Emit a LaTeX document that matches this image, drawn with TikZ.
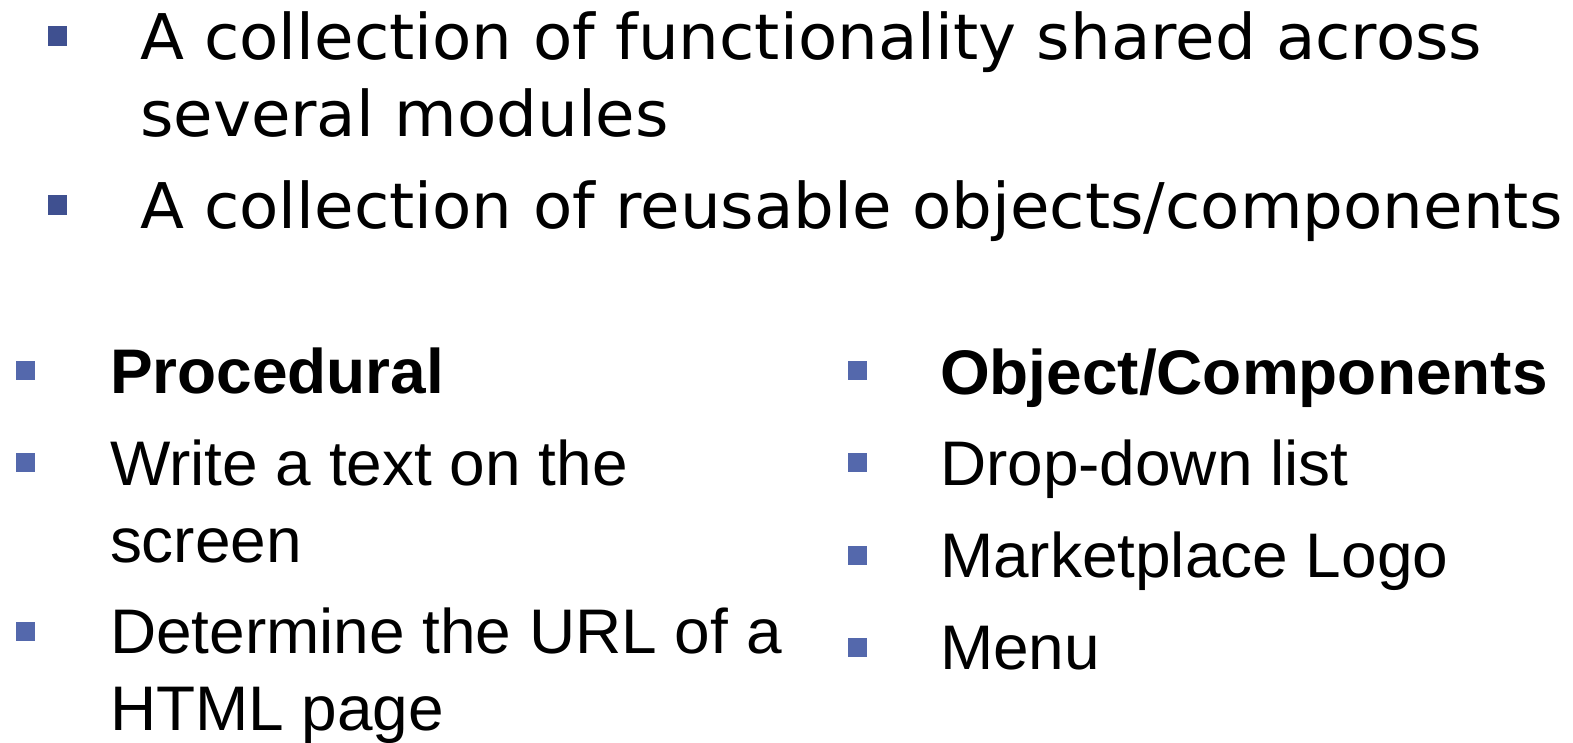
\documentclass[tikz,border=0pt]{standalone}
\usepackage{fontspec}
\newfontfamily\topfont[FakeStretch=1.02]{DejaVu Sans}
\newfontfamily\listfont[FakeStretch=1.015]{Liberation Sans}
\definecolor{bulletdark}{HTML}{3F5090}
\definecolor{bulletlight}{HTML}{5468AC}

\begin{document}
\begin{tikzpicture}[
    x=1pt, y=-1pt,
    every node/.style={inner sep=0pt, outer sep=0pt},
    topitem/.style={anchor=base west, align=left, font=\topfont\fontsize{63}{77}\selectfont},
    listitem/.style={anchor=base west, align=left, font=\listfont\fontsize{63}{77}\selectfont},
    topbullet/.style={fill=bulletdark, minimum width=19pt, minimum height=20pt},
    listbullet/.style={fill=bulletlight, minimum width=19pt, minimum height=19pt}
    ]
    \useasboundingbox (0,0) rectangle (1573,742);

    % upper list (base anchor sits on the last line)
    \node [topbullet] (tb1) at (57.5,36) {};
    \node [topbullet] (tb2) at (57.5,205) {};
    \node [topitem] (shared) at (140,136) {A collection of functionality shared across\\several modules};
    \node [topitem] (reuse) at (140,228) {A collection of reusable objects/components};

    % left column: procedural
    \node [listbullet] (lb1) at (25,370) {};
    \node [listbullet] (lb2) at (25,462) {};
    \node [listbullet] (lb3) at (25,631) {};
    \node [listitem] (proc) at (110,393) {\bfseries Procedural};
    \node [listitem] (write) at (110,562) {Write a text on the\\screen};
    \node [listitem] (url) at (110,730) {Determine the URL of a\\HTML page};

    % right column: objects
    \node [listbullet] (rb1) at (857.5,370) {};
    \node [listbullet] (rb2) at (857.5,462) {};
    \node [listbullet] (rb3) at (857.5,555) {};
    \node [listbullet] (rb4) at (857.5,647) {};
    \node [listitem] (obj) at (940,394) {\bfseries Object/Components};
    \node [listitem] (drop) at (940,485) {Drop-down list};
    \node [listitem] (logo) at (940,577) {Marketplace Logo};
    \node [listitem] (menu) at (940,669) {Menu};
\end{tikzpicture}
\end{document}
